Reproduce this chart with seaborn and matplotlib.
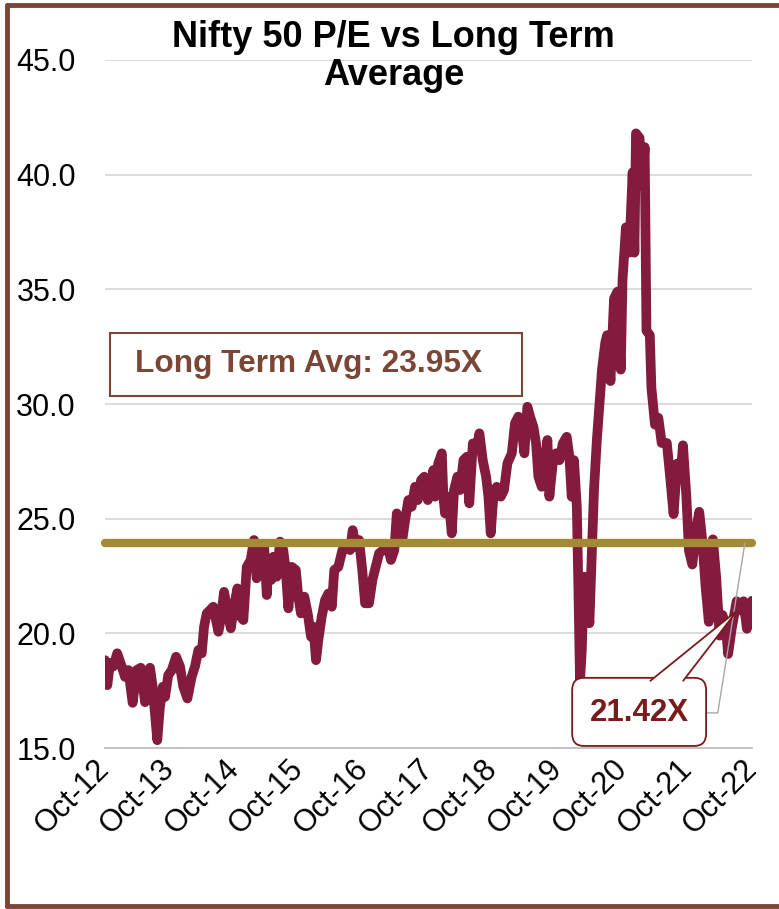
import pandas as pd
import matplotlib
matplotlib.use("Agg")
import matplotlib.pyplot as plt
import matplotlib.dates as mdates
from matplotlib.patches import Rectangle, FancyBboxPatch, Polygon
from matplotlib.lines import Line2D
import seaborn as sns

# ------------------------------------------------------------
# style
# ------------------------------------------------------------
sns.set_style("white")
plt.rcParams['font.family'] = ['Liberation Sans', 'DejaVu Sans']
plt.rcParams['text.color'] = 'black'
plt.rcParams['xtick.color'] = 'black'
plt.rcParams['ytick.color'] = 'black'

LINE_COLOR = '#821B3D'
AVG_COLOR = '#A38B33'
BROWN = '#7B4636'
DARK_RED = '#7A1A1A'
GRID = '#D9D9D9'
TICK_FS = 22

# ------------------------------------------------------------
# data
# ------------------------------------------------------------
TITLE = 'Nifty 50 P/E vs Long Term\nAverage'
LTA = 23.95
LATEST = 21.42
tick_years = list(range(2012, 2023))
y_ticks = [15, 20, 25, 30, 35, 40, 45]

dates = [
    '2012-10-01', '2012-10-14', '2012-10-29', '2012-11-17', '2012-12-09',
    '2013-01-03', '2013-01-22', '2013-02-10', '2013-03-06', '2013-03-29',
    '2013-04-21', '2013-05-15', '2013-06-12', '2013-06-27', '2013-07-10',
    '2013-07-23', '2013-08-07', '2013-08-23', '2013-09-05', '2013-09-23',
    '2013-10-13', '2013-11-06', '2013-11-28', '2013-12-17', '2014-01-09',
    '2014-02-02', '2014-02-21', '2014-03-12', '2014-03-31', '2014-04-13',
    '2014-04-28', '2014-05-17', '2014-06-04', '2014-07-03', '2014-07-16',
    '2014-08-04', '2014-08-22', '2014-09-11', '2014-09-29', '2014-10-18',
    '2014-11-06', '2014-11-21', '2014-12-10', '2015-01-01', '2015-01-20',
    '2015-02-04', '2015-02-23', '2015-03-18', '2015-04-02', '2015-04-07',
    '2015-04-26', '2015-05-09', '2015-05-28', '2015-06-16', '2015-07-04',
    '2015-07-18', '2015-08-02', '2015-08-21', '2015-09-13', '2015-09-27',
    '2015-10-12', '2015-10-31', '2015-11-19', '2015-12-08', '2015-12-21',
    '2016-01-05', '2016-01-18', '2016-02-06', '2016-02-25', '2016-03-15',
    '2016-04-03', '2016-04-17', '2016-05-10', '2016-06-02', '2016-06-26',
    '2016-07-15', '2016-07-30', '2016-08-16', '2016-09-04', '2016-09-22',
    '2016-10-08', '2016-10-30', '2016-11-18', '2016-12-07', '2016-12-26',
    '2017-01-19', '2017-02-13', '2017-03-03', '2017-03-22', '2017-04-05',
    '2017-04-18', '2017-05-06', '2017-05-22', '2017-06-09', '2017-06-28',
    '2017-07-17', '2017-08-01', '2017-08-20', '2017-09-07', '2017-09-27',
    '2017-10-19', '2017-10-28', '2017-11-07', '2017-11-25', '2017-12-15',
    '2017-12-24', '2018-01-02', '2018-01-21', '2018-02-09', '2018-02-22',
    '2018-03-13', '2018-03-28', '2018-04-16', '2018-05-05', '2018-05-19',
    '2018-06-08', '2018-06-30', '2018-07-15', '2018-08-03', '2018-08-22',
    '2018-09-04', '2018-09-17', '2018-10-02', '2018-10-21', '2018-11-13',
    '2018-12-01', '2018-12-20', '2019-01-14', '2019-02-01', '2019-02-20',
    '2019-03-11', '2019-03-26', '2019-04-12', '2019-04-27', '2019-05-16',
    '2019-05-31', '2019-06-13', '2019-07-02', '2019-07-21', '2019-08-03',
    '2019-08-14', '2019-09-02', '2019-09-21', '2019-10-10', '2019-10-29',
    '2019-11-20', '2019-12-05', '2019-12-18', '2019-12-31', '2020-01-16',
    '2020-01-25', '2020-02-03', '2020-02-13', '2020-02-26', '2020-03-12',
    '2020-03-27', '2020-04-09', '2020-04-22', '2020-05-08', '2020-06-06',
    '2020-06-25', '2020-07-05', '2020-07-24', '2020-08-13', '2020-09-01',
    '2020-09-20', '2020-09-30', '2020-10-19', '2020-11-07', '2020-11-26',
    '2020-12-06', '2020-12-15', '2021-01-04', '2021-01-17', '2021-02-02',
    '2021-02-12', '2021-03-03', '2021-03-12', '2021-04-01', '2021-04-20',
    '2021-05-09', '2021-06-07', '2021-06-26', '2021-07-15', '2021-08-04',
    '2021-08-23', '2021-09-06', '2021-09-25', '2021-10-10', '2021-10-29',
    '2021-11-17', '2021-12-07', '2021-12-26', '2022-01-11', '2022-01-30',
    '2022-02-22', '2022-03-13', '2022-04-01', '2022-04-17', '2022-05-06',
    '2022-05-19', '2022-06-08', '2022-07-06', '2022-07-26', '2022-08-14',
    '2022-09-02', '2022-10-01',
]

pe = [
    18.83, 17.74, 18.70, 18.56, 19.13,
    18.56, 18.10, 18.40, 16.97, 18.40,
    18.50, 17.00, 18.50, 17.67, 16.50,
    15.34, 16.80, 17.67, 17.23, 18.18,
    18.40, 18.98, 18.56, 17.67, 17.16,
    18.10, 18.56, 19.27, 19.13, 20.29,
    20.87, 21.01, 21.16, 20.07, 20.60,
    21.81, 21.01, 20.22, 21.16, 21.96,
    20.72, 20.58, 22.90, 23.19, 24.07,
    22.40, 23.34, 23.78, 21.67, 22.90,
    22.32, 23.34, 22.47, 24.00, 23.63,
    22.76, 21.09, 22.90, 22.76, 21.60,
    20.87, 21.60, 20.87, 19.85, 20.29,
    18.83, 19.70, 20.72, 21.45, 21.74,
    21.16, 22.76, 22.90, 23.63, 23.78,
    23.63, 24.50, 23.78, 24.07, 22.76,
    21.31, 21.31, 22.32, 22.90, 23.49,
    23.63, 23.78, 23.20, 23.63, 25.23,
    24.36, 24.07, 24.94, 25.81, 25.52,
    26.39, 25.81, 26.68, 26.83, 25.81,
    26.68, 27.12, 25.96, 27.41, 27.85,
    25.96, 25.23, 25.96, 24.36, 26.25,
    26.83, 26.25, 27.55, 27.70, 25.67,
    28.28, 28.13, 28.72, 27.55, 26.83,
    25.96, 24.36, 25.96, 26.39, 25.96,
    26.25, 27.41, 27.85, 29.16, 29.45,
    28.87, 27.85, 29.88, 29.45, 29.00,
    28.28, 26.83, 26.39, 27.70, 28.43,
    25.96, 27.41, 27.85, 27.55, 28.28,
    28.57, 27.70, 25.96, 27.55, 25.52,
    21.89, 17.90, 19.26, 22.47, 22.03,
    20.44, 23.34, 26.25, 28.43, 31.50,
    32.70, 33.00, 31.00, 34.60, 34.90,
    31.50, 35.40, 37.70, 36.60, 40.10,
    36.60, 41.80, 41.60, 39.50, 41.20,
    33.20, 33.00, 30.70, 29.10, 29.40,
    28.30, 28.30, 26.80, 25.20, 27.40,
    26.80, 28.20, 26.00, 23.60, 23.00,
    24.40, 25.30, 23.90, 22.10, 20.50,
    24.10, 22.40, 19.90, 20.80, 20.30,
    19.10, 20.20, 21.40, 21.00, 21.40,
    20.20, 21.42,
]

df = pd.DataFrame({'date': pd.to_datetime(dates), 'pe': pe})
x_start = pd.Timestamp(f'{tick_years[0]}-10-01')
x_end = pd.Timestamp(f'{tick_years[-1]}-10-01')

# ------------------------------------------------------------
# figure
# ------------------------------------------------------------
fig = plt.figure(figsize=(7.79, 9.09), dpi=100)
ax = fig.add_axes([0.1348, 0.1771, 0.8306, 0.7569])

sns.lineplot(data=df, x='date', y='pe', ax=ax, color=LINE_COLOR, lw=7,
             solid_joinstyle='round', solid_capstyle='round', zorder=3)

# long term average line, on top of the series
sns.lineplot(x=[x_start, x_end], y=[LTA, LTA], ax=ax, color=AVG_COLOR, lw=6,
             solid_capstyle='round', zorder=4, clip_on=False)

ax.set_xlim(x_start, x_end)
ax.set_ylim(y_ticks[0], y_ticks[-1])
ax.set_xlabel('')
ax.set_ylabel('')

ax.set_yticks(y_ticks)
ax.set_yticklabels([f'{v:.1f}' for v in y_ticks], fontsize=TICK_FS)
ax.yaxis.grid(True, color=GRID, lw=1.3)
ax.set_axisbelow(True)

ax.set_xticks([pd.Timestamp(f'{y}-10-01') for y in tick_years])
ax.set_xticklabels([f'Oct-{y % 100:02d}' for y in tick_years], fontsize=TICK_FS,
                   rotation=45, ha='right', va='center', rotation_mode='anchor')

ax.tick_params(axis='y', length=0, pad=21)
ax.tick_params(axis='x', length=7, width=1.2, color='#BFBFBF', pad=5)
for side in ['left', 'right', 'top']:
    ax.spines[side].set_visible(False)
ax.spines['bottom'].set_color('#BFBFBF')
ax.spines['bottom'].set_linewidth(1.3)

# title
fig.text(0.505, 0.978, TITLE, ha='center', va='top', fontsize=26,
         fontweight='bold', linespacing=1.12)

# long-term average label box
ax.add_patch(Rectangle((0.008, 0.512), 0.637, 0.091, transform=ax.transAxes,
                       facecolor='white', edgecolor=BROWN, lw=1.5, zorder=5))
ax.text(0.046, 0.5575, f'Long Term Avg: {LTA:.2f}X', transform=ax.transAxes,
        ha='left', va='center', fontsize=22.8, fontweight='bold', color=BROWN,
        zorder=6)

# latest value callout
box_x0, box_x1, box_y0, box_y1 = 0.722, 0.929, 0.003, 0.102
ax.add_patch(FancyBboxPatch((box_x0, box_y0), box_x1 - box_x0, box_y1 - box_y0,
                            boxstyle='round,pad=0,rounding_size=0.018',
                            transform=ax.transAxes, facecolor='white',
                            edgecolor=DARK_RED, lw=1.3, zorder=6, clip_on=False))
tip = ax.transAxes.inverted().transform(
    ax.transData.transform((mdates.date2num(pd.Timestamp('2022-07-10')), 21.0)))
ax.add_patch(Polygon([(0.842, 0.097), tuple(tip), (0.893, 0.097)], closed=False,
                     transform=ax.transAxes, facecolor='white',
                     edgecolor=DARK_RED, lw=1.3, zorder=7, clip_on=False))
ax.text((box_x0 + box_x1) / 2, (box_y0 + box_y1) / 2 - 0.002, f'{LATEST:.2f}X',
        transform=ax.transAxes, ha='center', va='center', fontsize=22.5,
        fontweight='bold', color=DARK_RED, zorder=8)

# thin grey leader line from the average line to the callout
ax.add_line(Line2D([0.989, 0.947, box_x1], [0.298, 0.051, 0.051],
                   transform=ax.transAxes, color='#A6A6A6', lw=1.0, zorder=5,
                   clip_on=False))

# brown frame around the slide
for xs, ys in [([0.009, 0.009], [0.003, 0.995]),
               ([0.009, 1.0], [0.995, 0.995]),
               ([0.009, 1.0], [0.003, 0.003])]:
    fig.add_artist(Line2D(xs, ys, transform=fig.transFigure, color=BROWN, lw=3.5))

fig.savefig('out.png', dpi=100)
